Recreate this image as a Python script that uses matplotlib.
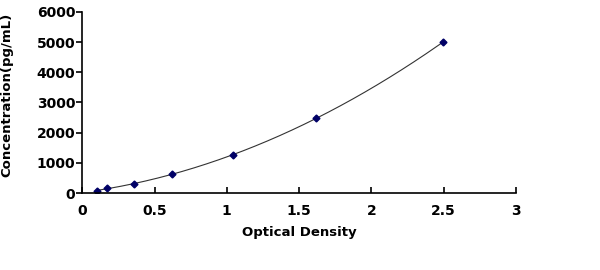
import numpy as np
import matplotlib.pyplot as plt

plt.rcParams['font.family'] = ['DejaVu Sans']

# standard curve points
od = [0.100, 0.173, 0.355, 0.624, 1.044, 1.620, 2.497]
conc = [78, 156, 312, 625, 1250, 2500, 5000]

fig = plt.figure(figsize=(6, 2.7), dpi=100)
ax = fig.add_axes([0.137, 0.285, 0.723, 0.671])

# smooth trend line through the standards (polynomial fit)
coef = np.polyfit(od, conc, 2)
xs = np.linspace(min(od), max(od), 200)
ax.plot(xs, np.polyval(coef, xs), color='#333333', lw=0.8)
ax.plot(od, conc, linestyle='none', marker='D', ms=3.5, color='#000066')

ax.set_xlim(0, 3)
ax.set_ylim(0, 6000)
ax.set_xticks([0, 0.5, 1, 1.5, 2, 2.5, 3])
ax.set_xticklabels(['0', '0.5', '1', '1.5', '2', '2.5', '3'])
ax.set_yticks(range(0, 6001, 1000))

for s in ['top', 'right']:
    ax.spines[s].set_visible(False)
ax.spines['left'].set_linewidth(1.2)
ax.spines['bottom'].set_linewidth(1.2)
ax.tick_params(axis='x', direction='in', length=4, width=1.2, pad=8)
ax.tick_params(axis='y', direction='out', length=4, width=1.2, pad=1)
for lab in ax.get_xticklabels() + ax.get_yticklabels():
    lab.set_fontweight('bold')
    lab.set_fontsize(10)

ax.set_xlabel('Optical Density', fontweight='bold', fontsize=9.5, labelpad=6)
ax.set_ylabel('Concentration(pg/mL)', fontweight='bold', fontsize=9.5)
ax.yaxis.set_label_coords(-0.158, 0.54)

fig.savefig('out.png', dpi=100)
